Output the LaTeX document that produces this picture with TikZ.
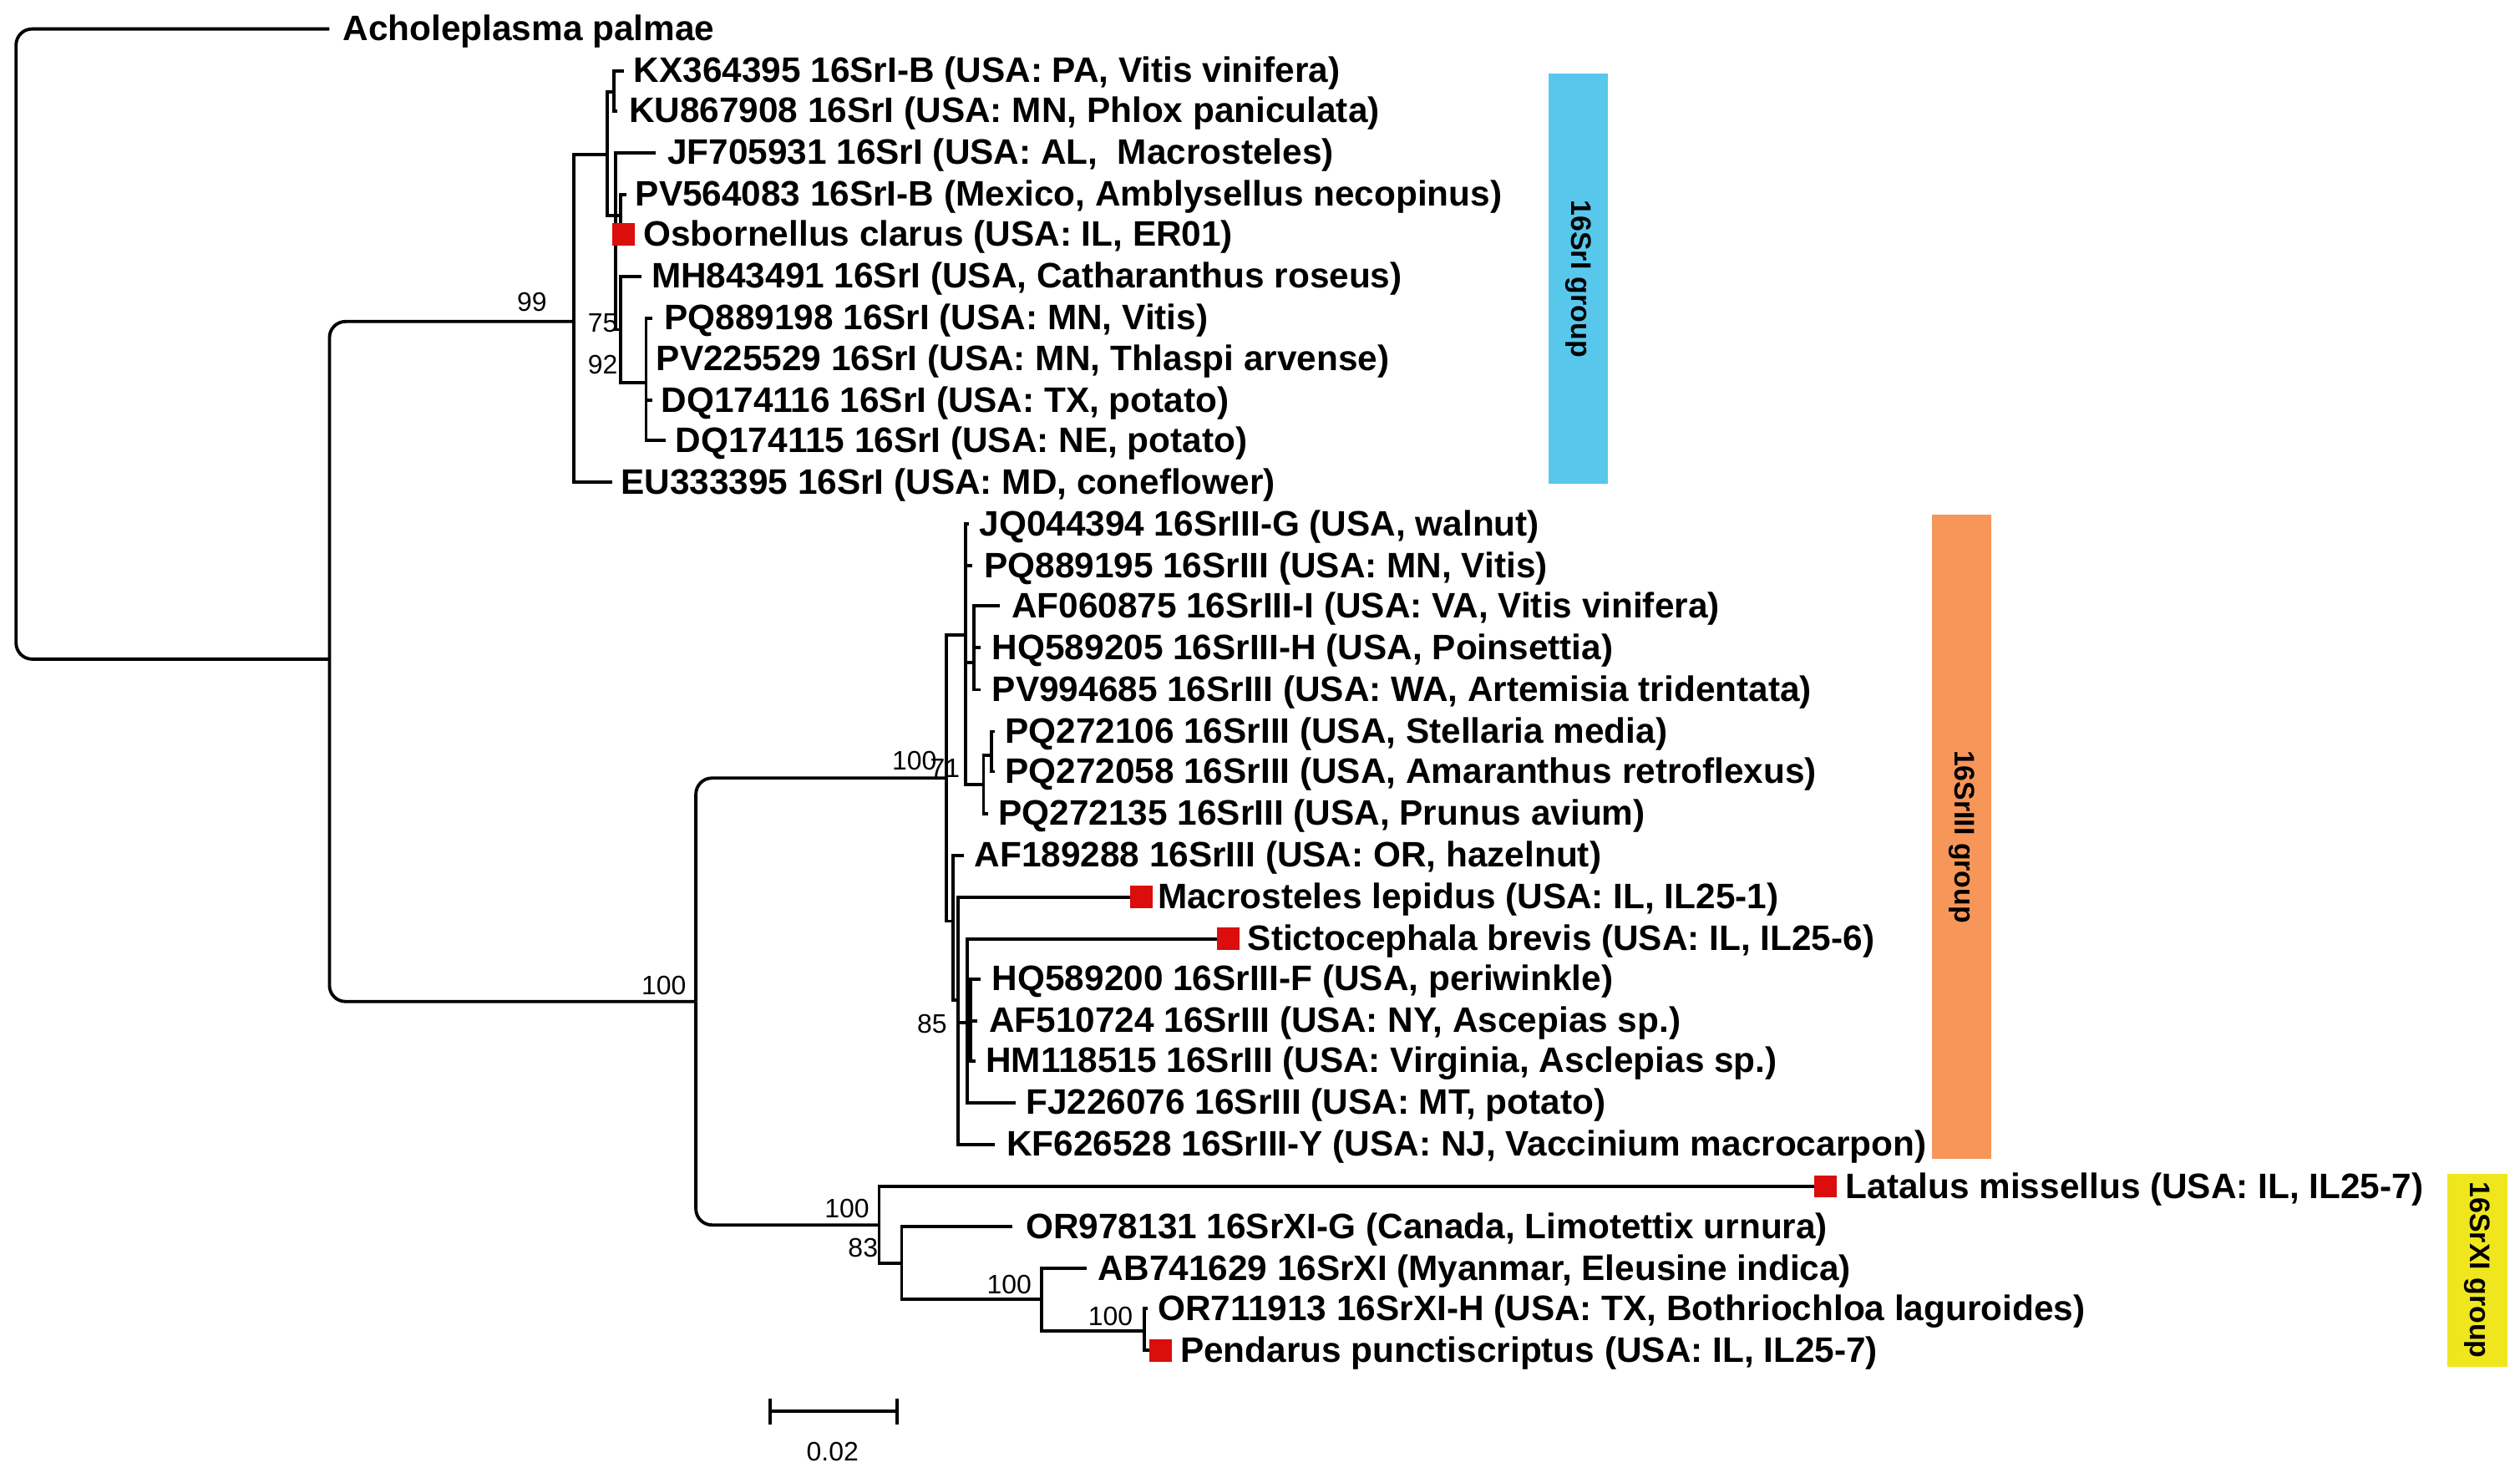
\documentclass[tikz,border=0pt]{standalone}
\usepackage{fontspec}
\setmainfont{Liberation Sans}
\usetikzlibrary{calc}
\begin{document}
\begin{tikzpicture}[x=0.5pt,y=-0.5pt,
 br/.style={line width=1pt},
 rbr/.style={line width=1pt,rounded corners=5pt},
 lab/.style={anchor=west,inner sep=0pt,yshift=-0.8pt,font=\fontsize{11pt}{12pt}\selectfont\bfseries},
 bs/.style={inner sep=0pt,font=\fontsize{8.3pt}{9pt}\selectfont},
 sq/.style={fill=red!85!black!95,draw=none,minimum size=7pt,inner sep=0pt},
 gl/.style={inner sep=0pt,rotate=-90,font=\fontsize{8.8pt}{9pt}\selectfont\bfseries},
 bar/.style={draw=none,minimum width=18.5pt,inner sep=0pt}]
\useasboundingbox (0,0) rectangle (1568,919);
% coordinates
\coordinate (r) at (10,214);
\coordinate (ach) at (205,18);
\coordinate (nA) at (205,410);
\coordinate (n99) at (357,200);
\coordinate (nB) at (378,96);
\coordinate (EU) at (381,300);
\coordinate (nKX) at (382,57);
\coordinate (KX) at (388,44);
\coordinate (KU) at (384,69);
\coordinate (nC) at (383,134);
\coordinate (JF) at (408,95);
\coordinate (nPV) at (386,134);
\coordinate (PVa) at (390,121);
\coordinate (Osb) at (388,146);
\coordinate (n92) at (386,205);
\coordinate (MH) at (399,172);
\coordinate (nPQ) at (402,238);
\coordinate (PQa) at (406,198);
\coordinate (PVb) at (403,223);
\coordinate (DQa) at (406,249);
\coordinate (DQb) at (414,274);
\coordinate (nC3) at (433,623);
\coordinate (n100b) at (589,484);
\coordinate (n71) at (601,395);
\coordinate (JQ) at (603,326);
\coordinate (PQb) at (605,352);
\coordinate (nAF) at (606,412);
\coordinate (AFa) at (622,377);
\coordinate (HQa) at (610,403);
\coordinate (PVc) at (610,429);
\coordinate (nPQ27) at (612,488);
\coordinate (nPQ2) at (617,470);
\coordinate (PQc) at (619,455);
\coordinate (PQd) at (619,480);
\coordinate (PQe) at (615,506);
\coordinate (n85) at (593,573);
\coordinate (AFb) at (600,532);
\coordinate (nX) at (596,622);
\coordinate (Mac) at (710,558);
\coordinate (n2) at (602,636);
\coordinate (KF) at (619,712);
\coordinate (Sti) at (764,584);
\coordinate (nHQ) at (604,636);
\coordinate (FJ) at (632,686);
\coordinate (HQb) at (610,609);
\coordinate (AFc) at (608,635);
\coordinate (HM) at (607,660);
\coordinate (nXI) at (547,762);
\coordinate (Lat) at (1136,738);
\coordinate (nB1) at (561,786);
\coordinate (ORa) at (630,763);
\coordinate (nAB) at (648,808);
\coordinate (AB) at (676,789);
\coordinate (nPe) at (712,828);
\coordinate (ORb) at (714,814);
\coordinate (Pen) at (722,840);
% branches
\foreach \p/\c in {r/ach,r/nA,nA/n99,nA/nC3,nC3/n100b,nC3/nXI}
  \draw[rbr] (\p) |- (\c);
\foreach \p/\c in {n99/nB,n99/EU,nB/nKX,nB/nC,nKX/KX,nKX/KU,nC/JF,nC/nPV,nC/n92,
  nPV/PVa,nPV/Osb,n92/MH,n92/nPQ,nPQ/PQa,nPQ/PVb,nPQ/DQa,nPQ/DQb,
  n100b/n71,n100b/n85,n71/JQ,n71/PQb,n71/nAF,n71/nPQ27,nAF/AFa,nAF/HQa,nAF/PVc,
  nPQ27/nPQ2,nPQ27/PQe,nPQ2/PQc,nPQ2/PQd,n85/AFb,n85/nX,nX/Mac,nX/n2,nX/KF,
  n2/Sti,n2/nHQ,n2/FJ,nHQ/HQb,nHQ/AFc,nHQ/HM,
  nXI/Lat,nXI/nB1,nB1/ORa,nB1/nAB,nAB/AB,nAB/nPe,nPe/ORb,nPe/Pen}
  \draw[br] (\p) |- (\c);
% squares
\node[sq] (sOsb) at (388,146) {};
\node[sq] (sMac) at (710,558) {};
\node[sq] (sSti) at (764,584) {};
\node[sq] (sLat) at (1136,738) {};
\node[sq] (sPen) at (722,840) {};
% labels
\node[lab] (tach) at (213,18) {Acholeplasma palmae};
\node[lab] (tKX) at (394,44) {KX364395 16SrI-B (USA: PA, Vitis vinifera)};
\node[lab] (tKU) at (391,69) {KU867908 16SrI (USA: MN, Phlox paniculata)};
\node[lab] (tJF) at (415,95) {JF705931 16SrI (USA: AL,\ \ Macrosteles)};
\node[lab] (tPVa) at (395,121) {PV564083 16SrI-B (Mexico, Amblysellus necopinus)};
\node[lab] (tOsb) at (400,146) {Osbornellus clarus (USA: IL, ER01)};
\node[lab] (tMH) at (405,172) {MH843491 16SrI (USA, Catharanthus roseus)};
\node[lab] (tPQa) at (413,198) {PQ889198 16SrI (USA: MN, Vitis)};
\node[lab] (tPVb) at (408,223) {PV225529 16SrI (USA: MN, Thlaspi arvense)};
\node[lab] (tDQa) at (411,249) {DQ174116 16SrI (USA: TX, potato)};
\node[lab] (tDQb) at (420,274) {DQ174115 16SrI (USA: NE, potato)};
\node[lab] (tEU) at (386,300) {EU333395 16SrI (USA: MD, coneflower)};
\node[lab] (tJQ) at (609,326) {JQ044394 16SrIII-G (USA, walnut)};
\node[lab] (tPQb) at (612,352) {PQ889195 16SrIII (USA: MN, Vitis)};
\node[lab] (tAFa) at (629,377) {AF060875 16SrIII-I (USA: VA, Vitis vinifera)};
\node[lab] (tHQa) at (617,403) {HQ589205 16SrIII-H (USA, Poinsettia)};
\node[lab] (tPVc) at (617,429) {PV994685 16SrIII (USA: WA, Artemisia tridentata)};
\node[lab] (tPQc) at (625,455) {PQ272106 16SrIII (USA, Stellaria media)};
\node[lab] (tPQd) at (625,480) {PQ272058 16SrIII (USA, Amaranthus retroflexus)};
\node[lab] (tPQe) at (621,506) {PQ272135 16SrIII (USA, Prunus avium)};
\node[lab] (tAFb) at (606,532) {AF189288 16SrIII (USA: OR, hazelnut)};
\node[lab] (tMac) at (720,558) {Macrosteles lepidus (USA: IL, IL25-1)};
\node[lab] (tSti) at (776,584) {Stictocephala brevis (USA: IL, IL25-6)};
\node[lab] (tHQb) at (617,609) {HQ589200 16SrIII-F (USA, periwinkle)};
\node[lab] (tAFc) at (615,635) {AF510724 16SrIII (USA: NY, Ascepias sp.)};
\node[lab] (tHM) at (613,660) {HM118515 16SrIII (USA: Virginia, Asclepias sp.)};
\node[lab] (tFJ) at (638,686) {FJ226076 16SrIII (USA: MT, potato)};
\node[lab] (tKF) at (626,712) {KF626528 16SrIII-Y (USA: NJ, Vaccinium macrocarpon)};
\node[lab] (tLat) at (1148,738) {Latalus missellus (USA: IL, IL25-7)};
\node[lab] (tORa) at (638,763) {OR978131 16SrXI-G (Canada, Limotettix urnura)};
\node[lab] (tAB) at (683,789) {AB741629 16SrXI (Myanmar, Eleusine indica)};
\node[lab] (tORb) at (720,814) {OR711913 16SrXI-H (USA: TX, Bothriochloa laguroides)};
\node[lab] (tPen) at (734,840) {Pendarus punctiscriptus (USA: IL, IL25-7)};
% bootstrap
\node[bs] (b99) at (331,188) {99};
\node[bs] (b75) at (375,201) {75};
\node[bs] (b92) at (375,227) {92};
\node[bs] (b100a) at (413,613) {100};
\node[bs] (b100b) at (569,473) {100};
\node[bs] (b71) at (588,478) {71};
\node[bs] (b85) at (580,637) {85};
\node[bs] (b100c) at (527,752) {100};
\node[bs] (b83) at (537,776) {83};
\node[bs] (b100d) at (628,799) {100};
\node[bs] (b100e) at (691,819) {100};
% group bars
\node[bar,fill={rgb,255:red,88;green,199;blue,236},minimum height=127.5pt] (g1) at (982,173.5) {};
\node[gl] at (g1) {16SrI group};
\node[bar,fill={rgb,255:red,246;green,150;blue,88},minimum height=200.5pt] (g3) at (1220.5,520.5) {};
\node[gl] at (g3) {16SrIII group};
\node[bar,fill={rgb,255:red,240;green,230;blue,30},minimum height=60pt] (g11) at (1541.5,790) {};
\node[gl] at (g11) {16SrXI group};
% scale bar
\coordinate (sb1) at (479,878);
\coordinate (sb2) at (558,878);
\draw[br] (sb1) -- (sb2);
\draw[br] ($(sb1)+(0,-8)$) -- ($(sb1)+(0,8)$);
\draw[br] ($(sb2)+(0,-8)$) -- ($(sb2)+(0,8)$);
\node[font=\fontsize{8.3pt}{9pt}\selectfont] (sbl) at (518,903) {0.02};
\end{tikzpicture}
\end{document}
